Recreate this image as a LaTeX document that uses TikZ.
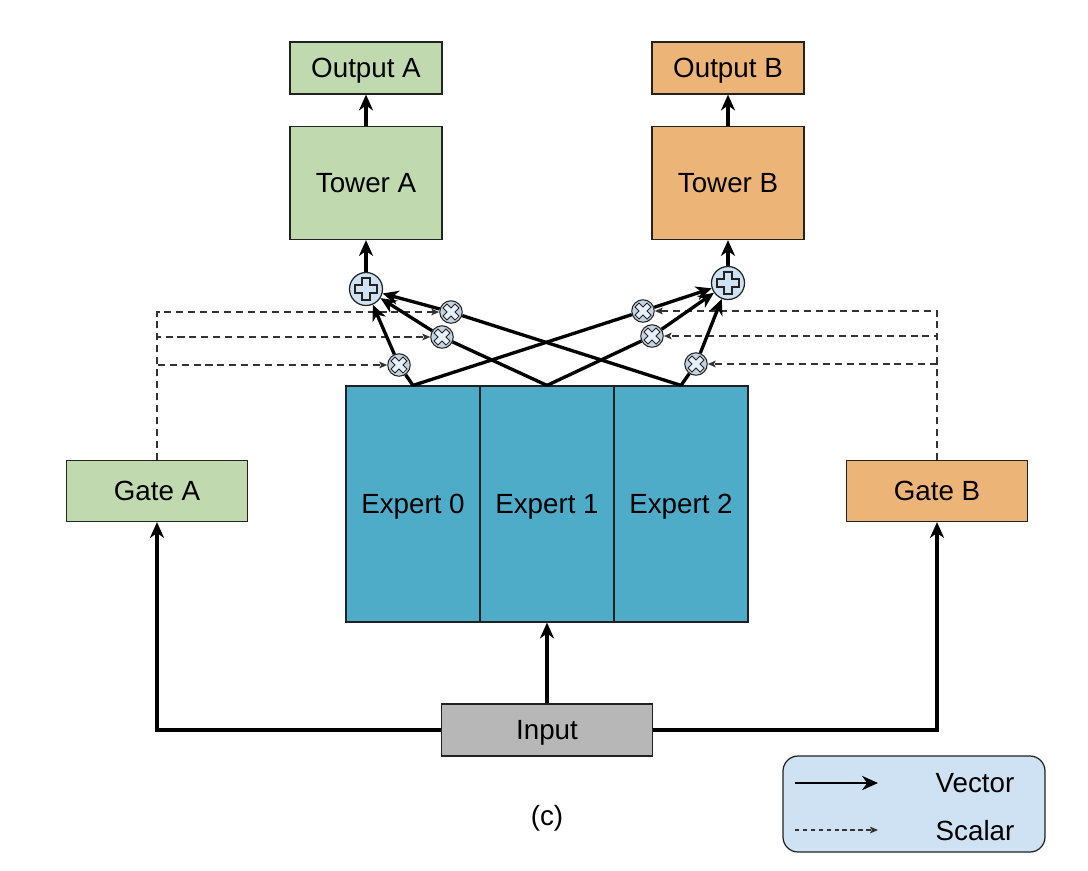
\documentclass[tikz,border=0pt]{standalone}
\usepackage{fontspec}
\setmainfont{Liberation Sans}
\usepackage{tikz}
\usetikzlibrary{positioning,arrows.meta,calc}

\definecolor{boxgreen}{HTML}{C0D9AF}
\definecolor{boxorange}{HTML}{EDB478}
\definecolor{expblue}{HTML}{4EACC8}
\definecolor{inpgray}{HTML}{B7B7B7}
\definecolor{lightblue}{HTML}{CFE2F3}
\definecolor{edge}{HTML}{222222}

% plus outline: half arm width, half arm length
\newcommand{\crossshape}[2]{(#1,#2) -- (#1,#1) -- (#2,#1) -- (#2,-#1) -- (#1,-#1) -- (#1,-#2) -- (-#1,-#2) -- (-#1,-#1) -- (-#2,-#1) -- (-#2,#1) -- (-#1,#1) -- (-#1,#2) -- cycle}
% times outline (plus turned by 45 degrees): inner radius, outer radius
\newcommand{\timesshape}[2]{(62.9:#2) -- (90:#1) -- (117.1:#2) -- (152.9:#2) -- (180:#1) -- (207.1:#2) -- (242.9:#2) -- (270:#1) -- (297.1:#2) -- (332.9:#2) -- (0:#1) -- (27.1:#2) -- cycle}

\begin{document}
\begin{tikzpicture}[x=0.02cm, y=-0.02cm, font=\fontsize{15.8}{18}\selectfont,
  blk/.style={draw=edge, line width=0.7pt, inner sep=0pt, text depth=0pt},
  vec/.style={line width=1.9pt, -{Stealth[length=9pt,width=8pt,inset=2.8pt]}},
  sca/.style={draw=black!80, line width=0.8pt, dash pattern=on 4pt off 2.8pt, -{Stealth[length=4.5pt,width=3.8pt,inset=1pt]}},
  addop/.style={circle, draw=edge, line width=0.7pt, fill=lightblue, minimum size=0.66cm, inner sep=0pt,
    path picture={\draw[edge, fill=lightblue, line width=0.6pt, shift={(path picture bounding box.center)}] \crossshape{0.08cm}{0.22cm};}},
  mulop/.style={circle, draw=edge, line width=0.6pt, fill=lightblue!85!gray, minimum size=0.45cm, inner sep=0pt,
    path picture={\draw[edge, fill=lightblue!50!white, line width=0.5pt, shift={(path picture bounding box.center)}] \timesshape{0.078cm}{0.18cm};}}]
\useasboundingbox (0,0) rectangle (1088,870);

% towers and outputs
\node[blk, fill=boxgreen, minimum width=3.04cm, minimum height=1.04cm] (outA) at (366,68) {Output A};
\node[blk, fill=boxgreen, minimum width=3.04cm, minimum height=2.26cm] (towerA) at (366,183) {Tower A};
\node[blk, fill=boxorange, minimum width=3.04cm, minimum height=1.04cm] (outB) at (728,68) {Output B};
\node[blk, fill=boxorange, minimum width=3.04cm, minimum height=2.26cm] (towerB) at (728,183) {Tower B};

% gates, experts, input
\node[blk, fill=boxgreen, minimum width=3.62cm, minimum height=1.22cm] (gateA) at (157,491) {Gate A};
\node[blk, fill=boxorange, minimum width=3.62cm, minimum height=1.22cm] (gateB) at (937,491) {Gate B};
\node[blk, fill=expblue, minimum width=2.68cm, minimum height=4.72cm] (ex0) at (413,504) {Expert 0};
\node[blk, fill=expblue, minimum width=2.68cm, minimum height=4.72cm] (ex1) at (547,504) {Expert 1};
\node[blk, fill=expblue, minimum width=2.68cm, minimum height=4.72cm] (ex2) at (681,504) {Expert 2};
\node[blk, fill=inpgray, minimum width=4.22cm, minimum height=1.04cm] (input) at (547,730) {Input};

% weighted sums
\node[addop] (plusA) at (366,289) {};
\node[addop] (plusB) at (728,283) {};
\node[mulop] (mA0) at (399,365) {};
\node[mulop] (mA1) at (442,337) {};
\node[mulop] (mA2) at (451,312) {};
\node[mulop] (mB0) at (643,311) {};
\node[mulop] (mB1) at (652,336) {};
\node[mulop] (mB2) at (696,364) {};

% gate scalars
\draw[sca] (gateA.north) |- (mA2);
\draw[sca] (gateA.north) |- (mA1);
\draw[sca] (gateA.north) |- (mA0);
\draw[sca] (gateB.north) |- (mB0);
\draw[sca] (gateB.north) |- (mB1);
\draw[sca] (gateB.north) |- (mB2);

% expert vectors
\draw[vec] (ex0.north) -- (mA0) -- (plusA);
\draw[vec] (ex1.north) -- (mA1) -- (plusA);
\draw[vec] (ex2.north) -- (mA2) -- (plusA);
\draw[vec] (ex0.north) -- (mB0) -- (plusB);
\draw[vec] (ex1.north) -- (mB1) -- (plusB);
\draw[vec] (ex2.north) -- (mB2) -- (plusB);

\draw[vec] (plusA) -- (towerA.south);
\draw[vec] (plusB) -- (towerB.south);
\draw[vec] (towerA.north) -- (outA.south);
\draw[vec] (towerB.north) -- (outB.south);

\draw[vec] (input.north) -- (ex1.south);
\draw[vec] (input.west) -| (gateA.south);
\draw[vec] (input.east) -| (gateB.south);

\node (cap) at (547,818) {(c)};

% legend
\node[draw=edge, line width=0.7pt, fill=lightblue, rounded corners=0.3cm, minimum width=5.24cm, minimum height=1.92cm] (legend) at (914,804) {};
\coordinate (lv1) at (795,783);
\coordinate (lv2) at (878,783);
\coordinate (ls1) at (795,830);
\coordinate (ls2) at (878,830);
\draw[vec, line width=1.5pt] (lv1) -- (lv2);
\draw[sca, dash pattern=on 2.5pt off 2pt] (ls1) -- (ls2);
\node[text depth=0pt] (lvec) at (975,783) {Vector};
\node[text depth=0pt] (lsca) at (975,830) {Scalar};
\end{tikzpicture}
\end{document}
